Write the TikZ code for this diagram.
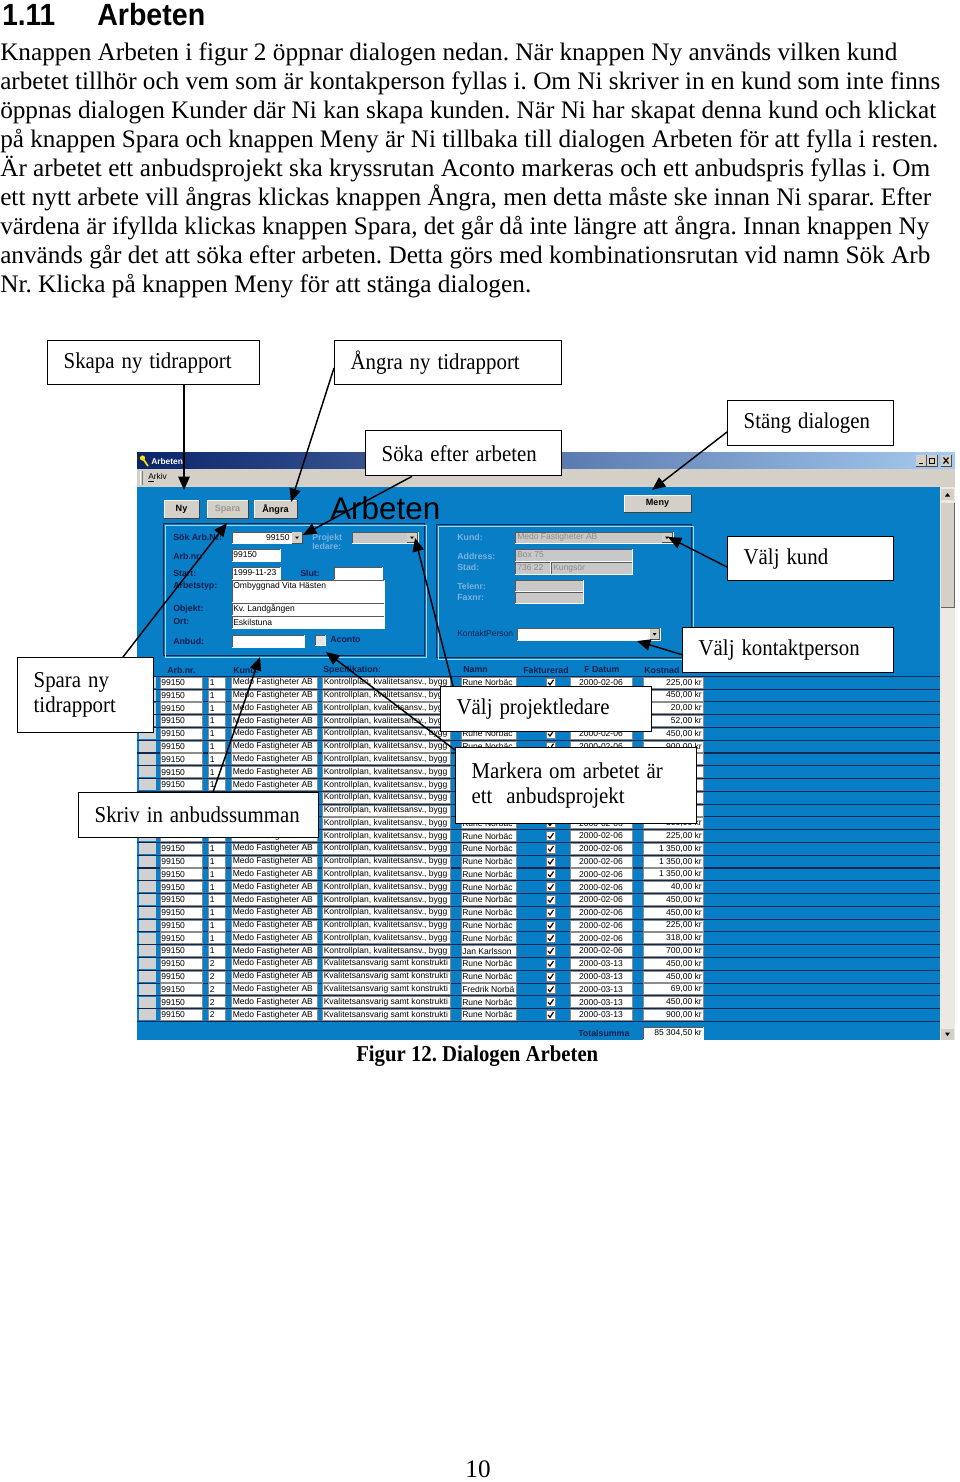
\documentclass[tikz,border=0pt]{standalone}
\usepackage{fontspec}
\usepackage{graphicx}
\setmainfont{Liberation Serif}
\newfontfamily\arial{Liberation Sans}
\usetikzlibrary{arrows.meta,calc}
\frenchspacing
\definecolor{winblue}{RGB}{8,126,198}
\definecolor{navy}{RGB}{12,30,78}
\definecolor{dislbl}{RGB}{125,178,222}
\definecolor{btngray}{RGB}{212,208,200}
\definecolor{fldgray}{RGB}{200,200,200}
\definecolor{titleL}{RGB}{10,36,106}
\definecolor{titleR}{RGB}{166,202,240}
\definecolor{rowline}{RGB}{10,40,80}
\definecolor{scrollbg}{RGB}{236,233,228}
\definecolor{grplight}{RGB}{160,215,245}
\newcommand\calloutfont{\fontsize{17pt}{19pt}\selectfont}
\newcommand\lblfont{\arial\bfseries\fontsize{6.6pt}{7.5pt}\selectfont}
\newcommand\cellfont{\arial\fontsize{6.4pt}{7pt}\selectfont}
\newcommand\parafont{\fontsize{18.9pt}{21pt}\selectfont}
\newcommand\btnfont{\arial\bfseries\fontsize{6.8pt}{7.5pt}\selectfont}
\newcommand\sx[1]{\scalebox{0.92}[1]{#1}}
\newcommand\costof[1]{\ifcase#1 225,00\or 450,00\or 20,00\or 52,00\or 450,00\or 900,00\or 450,00\or 225,00\or 450,00\or 900,00\or 450,00\or 500,00\or 225,00\or 1 350,00\or 1 350,00\or 1 350,00\or 40,00\or 450,00\or 450,00\or 225,00\or 318,00\or 700,00\or 450,00\or 450,00\or 69,00\or 450,00\or 900,00\fi}
\newcommand\nameof[1]{\ifnum#1=21 Jan Karlsson\else\ifnum#1=24 Fredrik Norbä\else Rune Norbäc\fi\fi}
\newcommand\colb[1]{\ifnum#1>21 2\else 1\fi}
\newcommand\specof[1]{\ifnum#1>21 Kvalitetsansvarig samt konstrukti\else Kontrollplan, kvalitetsansv., bygg\fi}
\newcommand\dateof[1]{\ifnum#1>21 2000-03-13\else 2000-02-06\fi}
% button: x1 y1 x2 y2 label colour
\newcommand\wbtn[6]{%
  \fill[btngray] (#1,#2) rectangle (#3,#4);
  \draw[white,line width=0.7pt] (#1,#4) -- (#1,#2) -- (#3,#2);
  \draw[black!75,line width=0.7pt] (#1,#4) -- (#3,#4) -- (#3,#2);
  \node[font=\btnfont,text=#6,inner sep=0pt] at ({(#1+#3)/2},{(#2+#4)/2}) {#5};}
% sunken field: x1 y1 x2 y2 fill
\newcommand\fld[5]{%
  \fill[#5] (#1,#2) rectangle (#3,#4);
  \draw[black!65,line width=0.6pt] (#1,#4) -- (#1,#2) -- (#3,#2);
  \draw[white,line width=0.6pt] (#1,#4) -- (#3,#4) -- (#3,#2);}
% dropdown button
\newcommand\ddb[4]{%
  \fill[btngray] (#1,#2) rectangle (#3,#4);
  \draw[black!70,line width=0.5pt] (#1,#4) -- (#3,#4) -- (#3,#2);
  \fill[black] ({(#1+#3)/2-2},{(#2+#4)/2-1}) -- ({(#1+#3)/2+2},{(#2+#4)/2-1}) -- ({(#1+#3)/2},{(#2+#4)/2+1.5}) -- cycle;}
\tikzset{
  callout/.style={draw=black, line width=1pt, fill=white, inner xsep=12pt, inner ysep=0pt,
    align=left, anchor=north west, font=\calloutfont},
  callarrow/.style={line width=1.1pt, -{Triangle[length=10pt,width=8.5pt]}},
  lbl/.style={anchor=west, inner sep=0pt, font=\lblfont, text=navy},
  dlbl/.style={lbl, text=dislbl},
  cell/.style={anchor=west, inner sep=0pt, font=\cellfont, text=black},
  para/.style={anchor=base west, inner sep=0pt, font=\parafont},
}
\begin{document}
\begin{tikzpicture}[x=0.75pt,y=-0.75pt]
\useasboundingbox (0,0) rectangle (960,1482);
\fill[white] (0,0) rectangle (960,1482);

% ---------- heading and paragraph ----------
\node[anchor=base west, inner sep=0pt, font=\arial\bfseries\fontsize{23pt}{26pt}\selectfont] (h1) at (2,25) {\resizebox{39.75pt}{\height}{1.11}};
\node[anchor=base west, inner sep=0pt, font=\arial\bfseries\fontsize{23pt}{26pt}\selectfont] (h2) at (97,25) {\resizebox{81pt}{\height}{Arbeten}};

\node[para] (p1) at (0,60) {\resizebox{672.75pt}{\height}{Knappen Arbeten i figur 2 öppnar dialogen nedan. När knappen Ny används vilken kund}};
\node[para] (p2) at (0,89) {\resizebox{705pt}{\height}{arbetet tillhör och vem som är kontakperson fyllas i. Om Ni skriver in en kund som inte finns}};
\node[para] (p3) at (0,118) {\resizebox{702pt}{\height}{öppnas dialogen Kunder där Ni kan skapa kunden. När Ni har skapat denna kund och klickat}};
\node[para] (p4) at (0,147) {\resizebox{703.5pt}{\height}{på knappen Spara och knappen Meny är Ni tillbaka till dialogen Arbeten för att fylla i resten.}};
\node[para] (p5) at (0,176) {\resizebox{697.5pt}{\height}{Är arbetet ett anbudsprojekt ska kryssrutan Aconto markeras och ett anbudspris fyllas i. Om}};
\node[para] (p6) at (0,205) {\resizebox{698.25pt}{\height}{ett nytt arbete vill ångras klickas knappen Ångra, men detta måste ske innan Ni sparar. Efter}};
\node[para] (p7) at (0,234) {\resizebox{696.75pt}{\height}{värdena är ifyllda klickas knappen Spara, det går då inte längre att ångra. Innan knappen Ny}};
\node[para] (p8) at (0,263) {\resizebox{697.5pt}{\height}{används går det att söka efter arbeten. Detta görs med kombinationsrutan vid namn Sök Arb}};
\node[para] (p9) at (0,292) {\resizebox{398.25pt}{\height}{Nr. Klicka på knappen Meny för att stänga dialogen.}};

% ---------- screenshot ----------
\fill[winblue] (137,487) rectangle (940,1040);
\shade[left color=titleL, right color=titleR] (137,452) rectangle (955,469);
\fill[yellow!85!orange] (142.5,458) circle (2.6);
\draw[yellow!80!orange, line width=1.3pt] (143.5,459.5) -- (148,466);
\node[anchor=west, inner sep=0pt, font=\arial\bfseries\fontsize{6.3pt}{7pt}\selectfont, text=white] (title) at (151,461) {Arbeten};
\foreach \xa in {916,927,941}{
  \fill[btngray] (\xa,455) rectangle (\xa+10,466);
  \draw[black!70,line width=0.5pt] (\xa,466) -- (\xa+10,466) -- (\xa+10,455);}
\draw[line width=0.9pt] (918.5,463.5) -- (923,463.5);
\draw[line width=0.6pt] (929.5,458.5) rectangle (934.5,463.5);
\draw[line width=0.9pt] (943.5,457.5) -- (948.5,463.5) (943.5,463.5) -- (948.5,457.5);
% menu bar
\fill[btngray] (137,469) rectangle (955,487);
\draw[white,line width=0.6pt] (140.5,471) -- (140.5,485);
\draw[black!50,line width=0.6pt] (142,471) -- (142,485);
\node[anchor=west, inner sep=0pt, font=\arial\fontsize{6.3pt}{7pt}\selectfont] (menu) at (148,478) {\underline{A}rkiv};
% scrollbar
\fill[scrollbg] (940,487) rectangle (955,1040);
\fill[btngray] (941,489) rectangle (954,500);
\fill[black] (945,496.5) -- (950,496.5) -- (947.5,493) -- cycle;
\fill[btngray] (941,503) rectangle (954,607);
\draw[black!60,line width=0.5pt] (941,607) -- (954,607) -- (954,503);
\fill[btngray] (941,1029) rectangle (954,1040);
\fill[black] (945,1032.5) -- (950,1032.5) -- (947.5,1036) -- cycle;

% buttons and title
\wbtn{164}{500}{199}{518}{Ny}{black}
\wbtn{207}{500}{248}{518}{Spara}{black!40}
\wbtn{254}{500}{297}{518}{Ångra}{black}
\wbtn{624}{495}{691}{512}{Meny}{black}
\node[anchor=base west, inner sep=0pt, font=\arial\fontsize{23.5pt}{26pt}\selectfont] (big) at (330,519) {\resizebox{82.5pt}{\height}{Arbeten}};

% group boxes
\draw[rowline,line width=0.7pt] (163,523) rectangle (424,655);
\draw[grplight,line width=0.7pt] (165,525) rectangle (426,657);
\draw[rowline,line width=0.7pt] (436,524) rectangle (691,657);
\draw[grplight,line width=0.7pt] (438,526) rectangle (693,659);

% left group
\node[lbl] (l1) at (173,537) {Sök Arb.Nr:};
\fld{232}{532}{292}{543}{white}
\node[cell, anchor=east] at (290,537.5) {99150};
\ddb{292}{532}{302}{543}
\node[dlbl, align=left, font=\lblfont\linespread{0.8}\selectfont] (l2) at (312,542) {Projekt\\ledare:};
\fld{352}{532}{418}{543}{fldgray}
\ddb{407}{533}{417}{542}
\node[lbl] (l3) at (173,556) {Arb.nr:};
\fld{232}{549}{280}{561}{white}
\node[cell] at (233,555) {99150};
\node[lbl] (l4) at (173,573) {Start:};
\fld{232}{567}{280}{579}{white}
\node[cell] at (233,573) {1999-11-23};
\node[lbl] (l5) at (300,573) {Slut:};
\fld{334}{567}{382}{579}{white}
\node[lbl] (l6) at (173,586) {Arbetstyp:};
\fld{232}{580}{384}{602}{white}
\node[cell] at (233,586) {Ombyggnad Vita Hästen};
\node[lbl] (l7) at (173,609) {Objekt:};
\fld{232}{603}{384}{615}{white}
\node[cell] at (233,609) {Kv. Landgången};
\node[lbl] (l8) at (173,621) {Ort:};
\fld{232}{616}{384}{628}{white}
\node[cell] at (233,622) {Eskilstuna};
\node[lbl] (l9) at (173,641) {Anbud:};
\fld{232}{635}{304}{647}{white}
\fld{315}{635}{325}{645}{black!10}
\node[lbl] (l10) at (330,640) {Aconto};

% right group
\node[dlbl] (r1) at (457,537) {Kund:};
\fld{515}{532}{673}{543}{fldgray}
\node[cell, text=black!45] at (517,537.5) {Medo Fastigheter AB};
\ddb{662}{533}{672}{542}
\node[dlbl] (r2) at (457,556) {Address:};
\fld{515}{549}{632}{561}{fldgray}
\node[cell, text=black!45] at (517,555) {Box 75};
\node[dlbl] (r3) at (457,567) {Stad:};
\fld{515}{562}{550}{574}{fldgray}
\node[cell, text=black!45] at (517,568) {736 22};
\fld{551}{562}{632}{574}{fldgray}
\node[cell, text=black!45] at (553,568) {Kungsör};
\node[dlbl] (r4) at (457,586) {Telenr:};
\fld{515}{580}{583}{591}{fldgray}
\node[dlbl] (r5) at (457,598) {Faxnr:};
\fld{515}{592}{583}{603}{fldgray}
\node[cell, text=navy] (r6) at (457,633) {KontaktPerson};
\fld{517}{628}{660}{640}{white}
\ddb{650}{629}{659}{639}

% table header
\node[lbl] (t1) at (167,670) {Arb.nr.};
\node[lbl] (t2) at (233,670) {Kund:};
\node[lbl] (t3) at (323,670) {Specifikation:};
\node[lbl] (t4) at (463,670) {Namn};
\node[lbl] (t5) at (523,670) {Fakturerad};
\node[lbl] (t6) at (584,670) {F Datum};
\node[lbl] (t7) at (644,670) {Kostnad};

% table rows
\foreach \i in {0,...,27}{
  \draw[rowline,line width=0.8pt] (137,{676.3+12.78*\i}) -- (940,{676.3+12.78*\i});}
\foreach \i in {0,...,26}{
  \pgfmathsetmacro\yt{677+12.78*\i}
  \pgfmathsetmacro\yb{\yt+11}
  \pgfmathsetmacro\ym{\yt+5.6}
  \pgfmathtruncatemacro\hideL{and(\i>8,\i<12)}
  \pgfmathtruncatemacro\hideR{or(and(\i>0,\i<4),and(\i>5,\i<11))}
  \pgfmathtruncatemacro\hideC{and(\i>5,\i<11)}
  \fill[black!18] (139,\yt) rectangle (156,\yb);
  \foreach \xa/\xb in {160/202,208/225,231/317,322/450,461/516,570/632,643/703}{
    \filldraw[fill=white, draw=black!45, line width=0.4pt] (\xa,\yt) rectangle (\xb,\yb);}
  \filldraw[fill=white, draw=black!50, line width=0.4pt] (546,\yt+1) rectangle (555,\yt+10);
  \draw[line width=0.9pt] (548,\ym) -- (550,\ym+2.3) -- (553.5,\ym-2.8);
  \ifnum\hideL=0
    \node[cell] at (161,\ym) {99150};
    \node[cell] at (209.5,\ym) {\colb{\i}};
    \node[cell] at (232.5,\ym) {Medo Fastigheter AB};
  \fi
  \ifnum\hideR=0
    \node[cell] at (462,\ym) {\nameof{\i}};
    \node[cell, anchor=center] at (601,\ym) {\dateof{\i}};
  \fi
  \ifnum\hideC=0
    \node[cell, anchor=east] at (702,\ym) {\costof{\i}~kr};
  \fi
}
\begin{scope}
  \clip (322,670) rectangle (449,1030);
  \foreach \i in {0,...,26}{
    \pgfmathsetmacro\ym{682.6+12.78*\i}
    \node[cell] at (323.5,\ym) {\specof{\i}};}
\end{scope}
\node[lbl] (tot) at (578,1033) {Totalsumma};
\fld{643}{1027}{703}{1039}{white}
\node[cell, anchor=east] (totv) at (702,1033) {85 304,50 kr};

% ---------- callout boxes ----------
\node[callout, text width=135pt, minimum height=33pt] (b1) at (47,340) {\sx{Skapa ny tidrapport}};
\node[callout, text width=146.25pt, minimum height=33pt] (b2) at (334,340) {\sx{Ångra ny tidrapport}};
\node[callout, text width=100.5pt, minimum height=33.75pt] (b3) at (727,400) {\sx{Stäng dialogen}};
\node[callout, text width=123pt, minimum height=33.75pt] (b4) at (365,430) {\sx{Söka efter arbeten}};
\node[callout, text width=100.5pt, minimum height=33pt] (b5) at (727,536) {\sx{Välj kund}};
\node[callout, text width=134.25pt, minimum height=33.75pt] (b6) at (682,627) {\sx{Välj kontaktperson}};
\node[callout, text width=78pt, minimum height=56.25pt] (b7) at (17,657) {\sx{Spara ny}\\\sx{tidrapport}};
\node[callout, text width=134.25pt, minimum height=33.75pt] (b8) at (440,686) {\sx{Välj projektledare}};
\node[callout, text width=156.75pt, minimum height=57pt] (b9) at (455,747) {\sx{Markera om arbetet är}\\\sx{ett\ \ anbudsprojekt}};
\node[callout, text width=156pt, minimum height=33.75pt] (b10) at (78,792) {\sx{Skriv in anbudssumman}};

% ---------- connectors ----------
\coordinate (tNy) at (184,490);
\coordinate (tAngra) at (291,502);
\coordinate (tSok) at (303,535);
\coordinate (tMeny) at (652,490);
\coordinate (tKund) at (668,537);
\coordinate (tKontakt) at (637,641);
\coordinate (tSpara) at (227,523);
\coordinate (tProj) at (415,538);
\coordinate (tAconto) at (326,652);
\coordinate (tAnbud) at (260,657);
\draw[callarrow] ($(b1.south west)+(137,0)$) -- (tNy);
\draw[callarrow] ($(b2.north west)+(0,28)$) -- (tAngra);
\draw[callarrow] ($(b4.south west)+(47,0)$) -- (tSok);
\draw[callarrow] ($(b3.north west)+(0,32)$) -- (tMeny);
\draw[callarrow] ($(b5.north west)+(0,31)$) -- (tKund);
\draw[callarrow] ($(b6.north west)+(1,28)$) -- (tKontakt);
\draw[callarrow] ($(b7.north west)+(106,0)$) -- (tSpara);
\draw[callarrow] ($(b8.north west)+(13,0)$) -- (tProj);
\draw[callarrow] ($(b9.north west)+(0,3)$) -- (tAconto);
\draw[callarrow] ($(b10.north west)+(135,0)$) -- (tAnbud);

% ---------- caption and page number ----------
\node[anchor=base west, inner sep=0pt, font=\bfseries\fontsize{17pt}{20pt}\selectfont] (cap) at (356,1061) {\resizebox{181.5pt}{\height}{Figur 12. Dialogen Arbeten}};
\node[anchor=base, inner sep=0pt, font=\fontsize{18.9pt}{21pt}\selectfont] (pg) at (478,1477) {10};
\end{tikzpicture}
\end{document}
